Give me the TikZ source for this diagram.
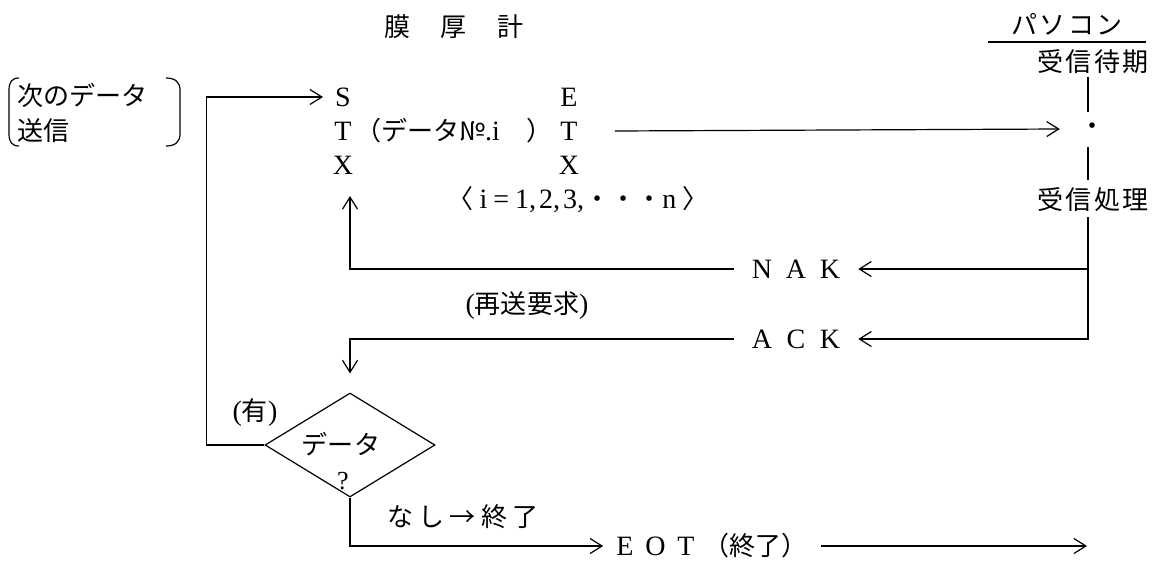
\documentclass[tikz,border=0pt]{standalone}
\usepackage{fontspec}
\setmainfont{Liberation Serif}
\newfontfamily\jp{Noto Sans CJK JP}[Scale=0.93]
\usetikzlibrary{arrows.meta,shapes.geometric}
\begin{document}
\begin{tikzpicture}[x=1pt,y=-1pt,
  every node/.style={inner sep=0pt, font=\fontsize{28}{32}\selectfont},
  ln/.style={line width=1.2pt},
  arr/.style={ln, -{Straight Barb[length=12pt,width=15pt]}},
]
\useasboundingbox (0,0) rectangle (1155,560);

% titles
\node (title) at (454,27) {\jp 膜\hspace{30pt}厚\hspace{30pt}計};
\node (pc) at (1067,24) {\jp パ\hspace{2pt}ソ\hspace{2pt}コ\hspace{2pt}ン};
\draw[ln] (988,42) -- (1146,42);

% PC side
\node (wait) at (1093,62) {\jp 受\hspace{2pt}信\hspace{2pt}待\hspace{2pt}期};
\node (dot) at (1093,129) {\jp ・};
\node (proc) at (1093,200) {\jp 受\hspace{2pt}信\hspace{2pt}処\hspace{2pt}理};
\coordinate (a1) at (1088,77);
\coordinate (a2) at (1088,112);
\coordinate (a3) at (1088,147);
\coordinate (a4) at (1088,180);
\coordinate (a5) at (1088,217);
\draw[ln] (a1) -- (a2);
\draw[ln] (a3) -- (a4);

% left note
\node[anchor=west] (next) at (17,95) {\jp 次のデータ};
\node[anchor=west] (send) at (17,131) {\jp 送信};
\draw[ln] (19,78) .. controls (12,78) and (9,82) .. (9,90) -- (9,134) .. controls (9,142) and (12,146) .. (19,146);
\draw[ln] (166,78) .. controls (175,78) and (180,82) .. (180,90) -- (180,134) .. controls (180,142) and (175,146) .. (166,146);

% STX / ETX block
\node (S) at (343,97) {S};
\node (T1) at (343,131) {T};
\node (X1) at (343,165) {X};
\node (E) at (569,97) {E};
\node (T2) at (569,131) {T};
\node (X2) at (569,165) {X};
\node (data) at (454,131) {{\jp （データ№}.i\hspace{27pt}{\jp ）}};
\node (range) at (578,200) {{\jp 〈}\hspace{6pt}i\hspace{6pt}=\hspace{6pt}1,\hspace{3pt}2,\hspace{3pt}3,{\jp ・・・}n\hspace{6pt}{\jp 〉}};

\draw[arr] ([xshift=37pt]T2.east) -- ([xshift=-20pt]dot.west);

% NAK / ACK
\node[inner xsep=18pt] (nak) at (796,269) {N\hspace{13.7pt}A\hspace{13.7pt}K};
\node[inner xsep=18pt] (ack) at (796,339) {A\hspace{14.5pt}C\hspace{14.5pt}K};
\draw[arr] (a5) |- (ack.east);
\draw[arr] (a5 |- nak.east) -- (nak.east);
\coordinate (up) at (350,196);
\draw[arr] (nak.west) -| (up);
\node (resend) at (527,306) {{(}{\jp 再送要求}{)}};

% decision
\node[diamond, draw, ln, minimum width=170pt, minimum height=104pt] (dia) at (350,445) {};
\node (dq) at (341,444) {\jp データ};
\node (qm) at (343,481) {\fontsize{26}{28}\selectfont ?};
\node (have) at (255,413) {{(}{\jp 有}{)}};
\draw[arr, shorten >=19pt] (ack.west) -| (dia.north);
\draw[arr] (dia.west) -- ++(-58,0) |- ([xshift=-12pt]S.west);

% end
\node (nashi) at (463,517) {\jp な\hspace{5pt}し\hspace{5pt}→\hspace{5pt}終\hspace{5pt}了};
\node[inner xsep=13pt] (eot) at (712,546) {E\hspace{11.8pt}O\hspace{11.8pt}T\hspace{9pt}{\jp （終了）}};
\draw[arr] (dia.south) |- (eot.west);
\coordinate (endp) at (1087,546);
\draw[arr] (eot.east) -- (endp);
\end{tikzpicture}
\end{document}
